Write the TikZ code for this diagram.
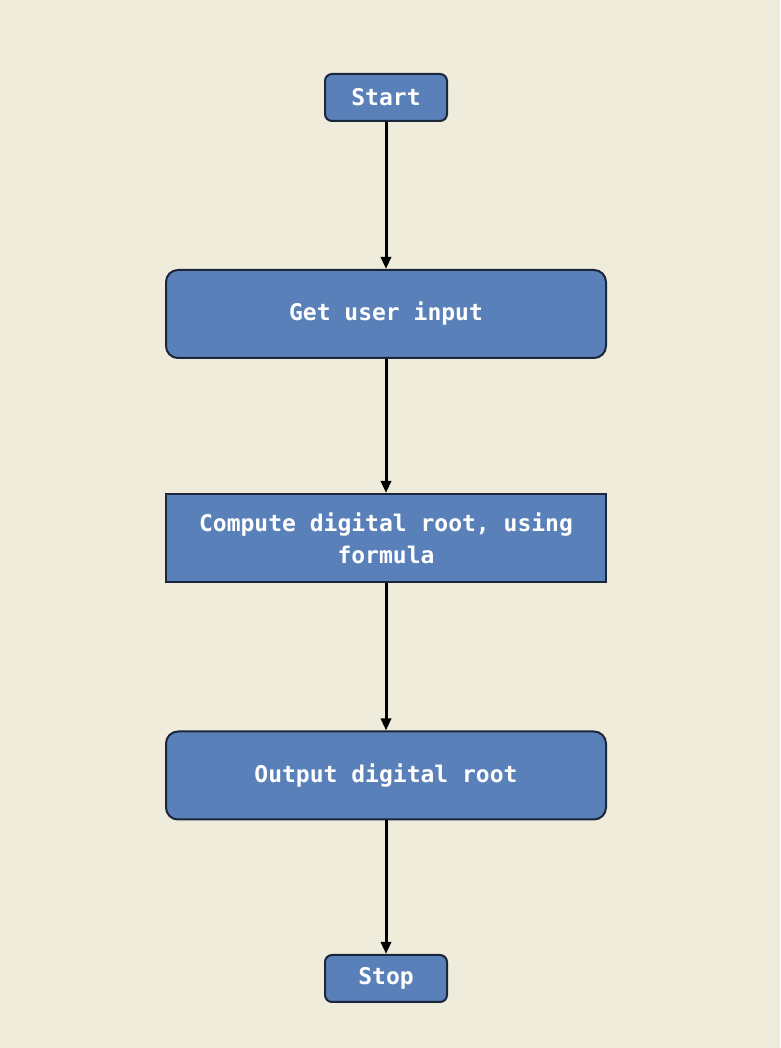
\documentclass[tikz,border=0pt]{standalone}
\usepackage{fontspec}
\setmonofont{DejaVu Sans Mono}
\usetikzlibrary{positioning,arrows.meta}
\definecolor{bgcolor}{RGB}{240,236,220}
\definecolor{boxcolor}{RGB}{90,128,185}
\definecolor{edgecolor}{RGB}{28,38,58}
\tikzset{
  flowbox/.style={draw=edgecolor, line width=2pt, fill=boxcolor, text=white,
    font=\ttfamily\bfseries\fontsize{23}{32}\selectfont, align=center,
    minimum width=440pt, minimum height=88pt, inner sep=0pt},
  roundbox/.style={flowbox, rounded corners=12pt},
  termbox/.style={flowbox, rounded corners=7pt, minimum width=122pt, minimum height=47pt},
  flowarrow/.style={-{Triangle[length=12pt,width=10pt]}, line width=3pt}
}
\begin{document}
\begin{tikzpicture}[x=1pt,y=1pt]
  \fill[bgcolor] (0,0) rectangle (780,1048);
  \useasboundingbox (0,0) rectangle (780,1048);
  % flow chart
  \node[termbox] (start) at (386,950.5) {Start};
  \node[roundbox] (input) at (386,734) {Get user input};
  \node[flowbox] (compute) at (386,510) {Compute digital root, using\\formula};
  \node[roundbox] (output) at (386,272.5) {Output digital root};
  \node[termbox] (stop) at (386,69.5) {Stop};

  \draw[flowarrow] (start) -- (input);
  \draw[flowarrow] (input) -- (compute);
  \draw[flowarrow] (compute) -- (output);
  \draw[flowarrow] (output) -- (stop);
\end{tikzpicture}
\end{document}
